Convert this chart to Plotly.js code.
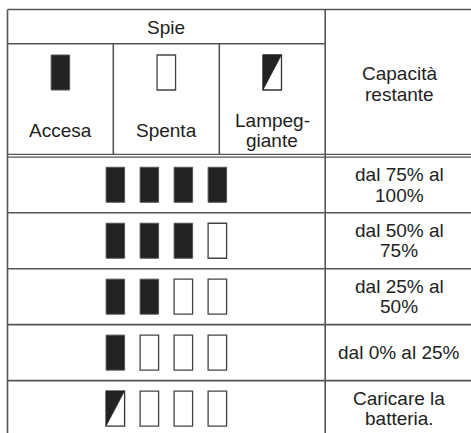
<!DOCTYPE html>
<html>
<head>
<meta charset="utf-8">
<script src="https://cdn.plot.ly/plotly-3.0.1.min.js"></script>
<style>html,body{margin:0;padding:0;background:#fff;}#chart{width:471px;height:433px;}</style>
</head>
<body>
<div id="chart"></div>
<script>
// ---- Data ----
const spieHeader = "Spie";
const capacityHeader = ["Capacità", "restante"];
const legendStates = ["on", "off", "blink"];
const legendLabels = [["Accesa"], ["Spenta"], ["Lampeg-", "giante"]];
const capacityLabels = [
  ["dal 75% al", "100%"],
  ["dal 50% al", "75%"],
  ["dal 25% al", "50%"],
  ["dal 0% al 25%"],
  ["Caricare la", "batteria."]
];
const indicatorStates = [
  ["on", "on", "on", "on"],
  ["on", "on", "on", "off"],
  ["on", "on", "off", "off"],
  ["on", "off", "off", "off"],
  ["blink", "off", "off", "off"]
];

// ---- Layout geometry ----
const W = 471, H = 433;
const X0 = 7.5, XC = [113.3, 219.3, 325.2], XR = 480;
const Y0 = 9.5, YS = 43.8, YD1 = 154.3, YD2 = 157.2;
const ROW_TOP = 156.8, ROW_H = 55.95;
const ICON_W = 18.5, ICON_H = 35, ICON_STEP = 34;
const FONT = {family: "Liberation Sans, Arial, sans-serif", size: 19, color: "#222"};
const LINE_GAP = 20.5;
const LINE_COLOR = "#555", LINE_W = 1.6;
const ON_FILL = "#222", ICON_EDGE = "#555";

const shapes = [];
const annotations = [];

function hline(y, x0, x1, w) {
  shapes.push({type: "line", xref: "x", yref: "y", x0: x0, x1: x1, y0: y, y1: y,
    line: {color: LINE_COLOR, width: w || LINE_W}});
}
function vline(x, y0, y1, w) {
  shapes.push({type: "line", xref: "x", yref: "y", x0: x, x1: x, y0: y0, y1: y1,
    line: {color: LINE_COLOR, width: w || LINE_W}});
}
function icon(cx, cy, state) {
  const x0 = cx - ICON_W / 2, x1 = cx + ICON_W / 2;
  const y0 = cy - ICON_H / 2, y1 = cy + ICON_H / 2;
  if (state === "on") {
    shapes.push({type: "rect", xref: "x", yref: "y", x0: x0, x1: x1, y0: y0, y1: y1,
      fillcolor: ON_FILL, line: {color: ICON_EDGE, width: 1}});
  } else if (state === "off") {
    shapes.push({type: "rect", xref: "x", yref: "y", x0: x0, x1: x1, y0: y0, y1: y1,
      fillcolor: "#fff", line: {color: "#444", width: 1.3}});
  } else {
    shapes.push({type: "rect", xref: "x", yref: "y", x0: x0, x1: x1, y0: y0, y1: y1,
      fillcolor: "#fff", line: {color: "#333", width: 1.3}});
    shapes.push({type: "path", xref: "x", yref: "y",
      path: `M${x0},${y0} L${x1},${y0} L${x0},${y1} Z`,
      fillcolor: ON_FILL, line: {color: ON_FILL, width: 0.5}});
  }
}
function label(lines, cx, cy) {
  const n = lines.length;
  lines.forEach((t, i) => {
    annotations.push({xref: "x", yref: "y", x: cx, y: cy + (i - (n - 1) / 2) * LINE_GAP,
      text: t, showarrow: false, xanchor: "center", yanchor: "middle", font: FONT});
  });
}

// Table grid
hline(Y0, X0, XR);
hline(YS, X0, XC[2]);
hline(YD1, X0, XR, 1.3);
hline(YD2, X0, XR, 1.3);
capacityLabels.forEach((_, i) => { if (i > 0) hline(ROW_TOP + i * ROW_H, X0, XR); });
vline(X0, Y0, H + 5);
vline(XC[2], Y0, H + 5);
vline(XC[0], YS, YD1);
vline(XC[1], YS, YD1);

// Header
const leftCenter = (X0 + XC[2]) / 2;
const rightCenter = 399;
label([spieHeader], leftCenter, (Y0 + YS) / 2 + 0.5);
label(capacityHeader, rightCenter, 84);
const colEdges = [X0, XC[0], XC[1], XC[2]];
legendStates.forEach((s, i) => {
  const cx = (colEdges[i] + colEdges[i + 1]) / 2;
  icon(cx, 72.5, s);
  label(legendLabels[i], cx, 130.5);
});

// Rows
indicatorStates.forEach((row, r) => {
  const cy = ROW_TOP + r * ROW_H + ROW_H / 2;
  row.forEach((s, k) => {
    icon(leftCenter + (k - (row.length - 1) / 2) * ICON_STEP, cy, s);
  });
  label(capacityLabels[r], rightCenter, cy);
});

const layout = {
  width: W, height: H,
  margin: {l: 0, r: 0, t: 0, b: 0},
  paper_bgcolor: "#fff", plot_bgcolor: "#fff",
  xaxis: {range: [0, W], visible: false, fixedrange: true},
  yaxis: {range: [H, 0], visible: false, fixedrange: true},
  showlegend: false,
  shapes: shapes,
  annotations: annotations
};
Plotly.newPlot("chart", [{x: [], y: [], type: "scatter", mode: "markers", hoverinfo: "skip"}], layout,
  {staticPlot: true, displayModeBar: false});
</script>
</body>
</html>
